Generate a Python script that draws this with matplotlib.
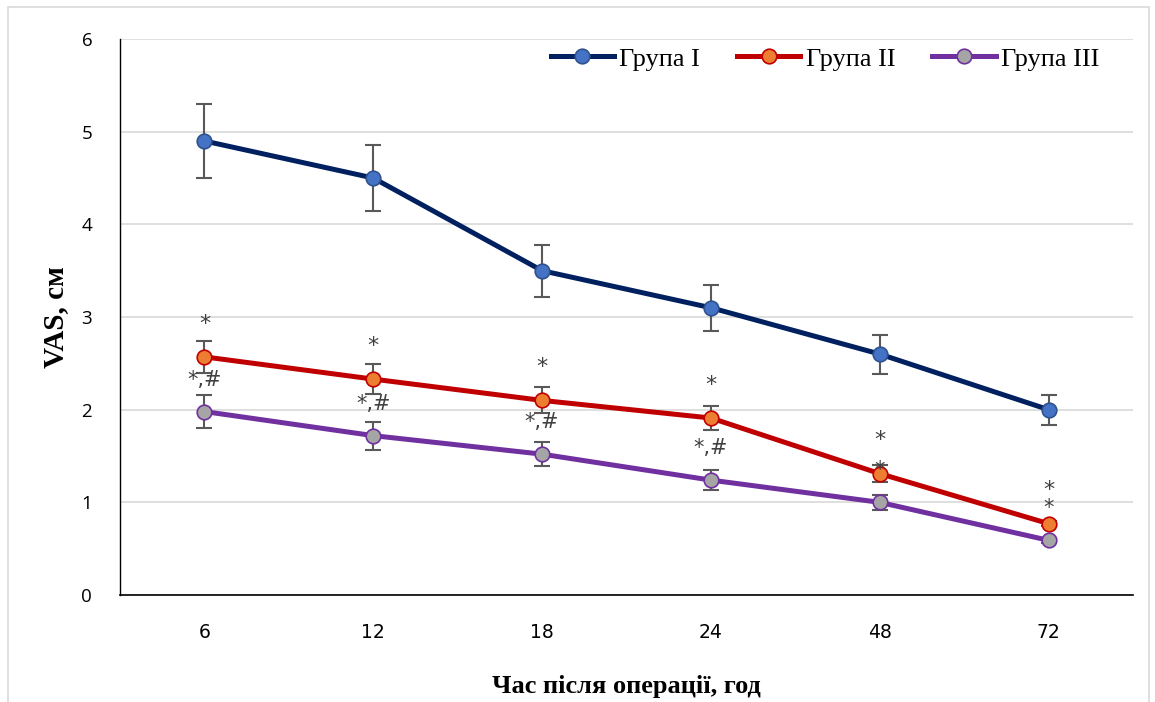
import matplotlib.pyplot as plt
import numpy as np

hours = ['6', '12', '18', '24', '48', '72']

g1 = [4.90, 4.50, 3.50, 3.10, 2.60, 2.00]
g1_err = [0.40, 0.36, 0.28, 0.25, 0.21, 0.16]
g2 = [2.57, 2.33, 2.10, 1.91, 1.31, 0.77]
g2_err = [0.17, 0.16, 0.14, 0.13, 0.09, 0.03]
g3 = [1.98, 1.72, 1.52, 1.24, 1.00, 0.59]
g3_err = [0.18, 0.15, 0.13, 0.11, 0.08, 0.03]

g2_marks = ['*', '*', '*', '*', '*', '*']
g3_marks = ['*,#', '*,#', '*,#', '*,#', '*', '*']

fig = plt.figure(figsize=(11.55, 7.02), dpi=100)
ax = fig.add_axes([0.1039, 0.1524, 0.8771, 0.792])

# рамка діаграми
fig.patches.append(plt.Rectangle((0.007, -0.01), 0.988, 1.0, transform=fig.transFigure,
                                 fill=False, edgecolor='#D9D9D9', lw=1.2))

x = np.arange(len(hours))
series = [
    (g1, g1_err, 'Група I', '#002060', '#4472C4', '#2F528F'),
    (g2, g2_err, 'Група II', '#C00000', '#ED7D31', '#C00000'),
    (g3, g3_err, 'Група III', '#7030A0', '#A5A5A5', '#7030A0'),
]
for vals, err, name, lc, fc, ec in series:
    ax.errorbar(x, vals, yerr=err, fmt='none', ecolor='#595959', elinewidth=1.5,
                capsize=6, capthick=1.5, zorder=2)
    ax.plot(x, vals, color=lc, lw=3.6, marker='o', markersize=10.5,
            markerfacecolor=fc, markeredgecolor=ec, markeredgewidth=1.2,
            label=name, zorder=3)

for i in range(len(hours)):
    ax.annotate(g2_marks[i], (x[i], g2[i]), xytext=(0, 24), textcoords='offset points',
                ha='center', va='center', fontsize=16, color='#404040')
    ax.annotate(g3_marks[i], (x[i], g3[i]), xytext=(0, 23), textcoords='offset points',
                ha='center', va='center', fontsize=15, color='#404040')

ax.set_xlim(-0.5, 5.5)
ax.set_ylim(0, 6)
ax.set_yticks(range(7))
ax.set_xticks(x)
ax.set_xticklabels(hours, fontsize=13.5)
for lab in ax.get_yticklabels():
    lab.set_family('Open Sans')
    lab.set_fontsize(13.5)
ax.tick_params(axis='both', length=0, colors='black')
ax.tick_params(axis='y', pad=20)
ax.tick_params(axis='x', pad=20)

ax.grid(axis='y', color='#D9D9D9', lw=1.2)
ax.set_axisbelow(True)
for s in ['top', 'right']:
    ax.spines[s].set_visible(False)
ax.spines['left'].set_color('black')
ax.spines['bottom'].set_color('black')
ax.spines['left'].set_linewidth(1.0)
ax.spines['bottom'].set_linewidth(1.2)

ax.set_ylabel('VAS, см', family='Liberation Serif', fontweight='bold', fontsize=21, va='center')
ax.yaxis.set_label_coords(-0.064, 0.5)
ax.set_xlabel('Час після операції, год', family='Liberation Serif', fontweight='bold',
              fontsize=19, va='center')
ax.xaxis.set_label_coords(0.5, -0.165)

ax.legend(loc='upper right', ncol=3, frameon=False, bbox_to_anchor=(0.99, 1.028),
          prop={'family': 'Liberation Serif', 'size': 19}, handlelength=2.4,
          columnspacing=1.4, handletextpad=0.2)

fig.savefig('out.png', dpi=100)
